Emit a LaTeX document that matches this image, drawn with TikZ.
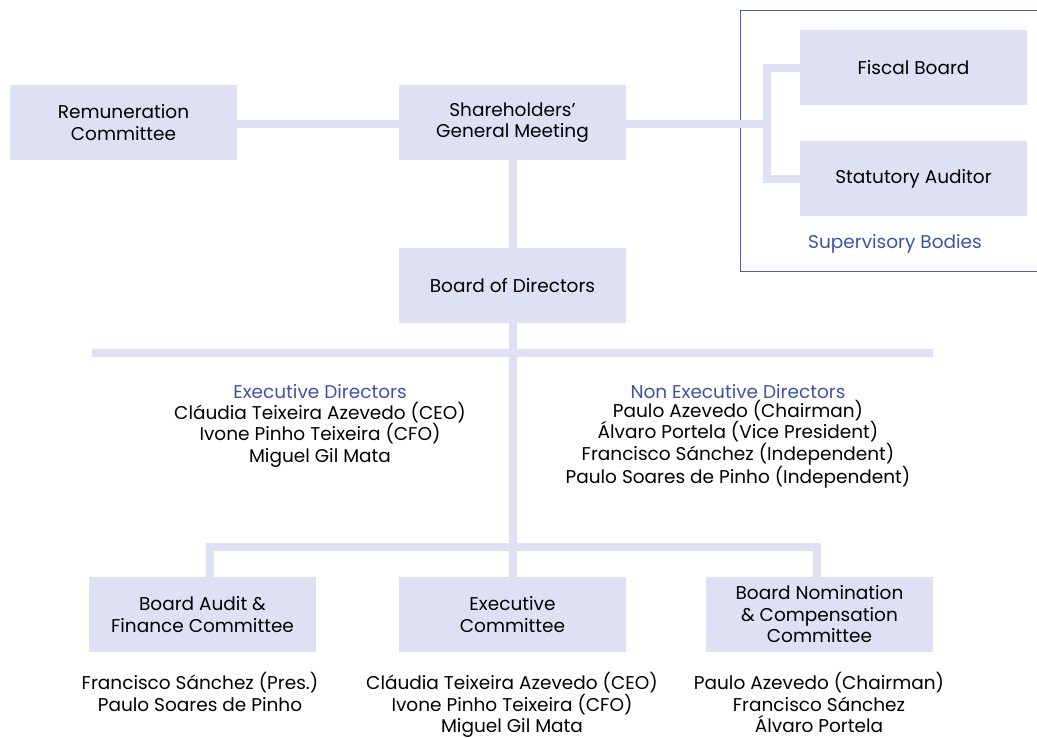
\documentclass[tikz,border=0pt]{standalone}
\usepackage{fontspec}
\setmainfont{Poppins}
\definecolor{boxfill}{HTML}{DDE1F3}
\definecolor{bluetext}{HTML}{3F54A0}
\definecolor{frameblue}{HTML}{4A5FA5}
\tikzset{
  orgbox/.style={fill=boxfill, minimum width=227pt, minimum height=75pt, inner sep=0pt, align=center, font=\fontsize{18.5}{21.5}\selectfont},
  link/.style={draw=boxfill, line width=8pt},
  names/.style={align=center, inner sep=0pt, anchor=base, font=\fontsize{18.5}{21.5}\selectfont},
  caption/.style={text=bluetext, inner sep=0pt, anchor=base, font=\fontsize{18.5}{21.5}\selectfont},
}
\begin{document}
\begin{tikzpicture}[x=1pt,y=-1pt]
\useasboundingbox (0,0) rectangle (1037,737);
% supervisory frame
\draw[frameblue, line width=1pt] (1037,10) -- (740.5,10) -- (740.5,271) -- (1037,271);
\coordinate (brk) at (767,124);
\coordinate (barL) at (92,353);
\coordinate (barR) at (933,353);
\coordinate (low) at (513,547);
\coordinate (dl) at (209.5,547);
\coordinate (dr) at (816.5,547);
\node[orgbox] (rem) at (123.5,122.5) {Remuneration\\Committee};
\node[orgbox] (sgm) at (512.5,122.5) {Shareholders'\\General Meeting};
\node[orgbox] (fis) at (913.5,67.5) {Fiscal Board};
\node[orgbox] (aud) at (913.5,178.5) {Statutory Auditor};
\node[orgbox] (bod) at (512.5,285.5) {Board of Directors};
\node[orgbox] (baf) at (202.5,614.5) {Board Audit \&\\Finance Committee};
\node[orgbox] (exc) at (512.5,614.5) {Executive\\Committee};
\node[orgbox] (bnc) at (819.5,614.5) {Board Nomination\\\& Compensation\\Committee};
\path[link] (rem.east |- brk) -- (sgm.west |- brk);
\path[link] (sgm.east |- brk) -- (brk);
\path[link] (fis.west) -| (brk) |- (aud.west);
\path[link] (sgm.south -| low) -- (bod.north -| low);
\path[link] (bod.south -| low) -- (low);
\path[link] (barL) -- (barR);
\path[link] (baf.north -| dl) -- (dl) -- (dr) -- (bnc.north -| dr);
\path[link] (low) -- (exc.north -| low);
\node[caption, anchor=center] (sup) at (895,244) {Supervisory Bodies};
\node[caption] (exd) at (320,398) {Executive Directors};
\node[names] (exdn) at (320,462) {Cláudia Teixeira Azevedo (CEO)\\Ivone Pinho Teixeira (CFO)\\Miguel Gil Mata};
\node[caption] (ned) at (738,398) {Non Executive Directors};
\node[names] (nedn) at (738,483.5) {Paulo Azevedo (Chairman)\\Álvaro Portela (Vice President)\\Francisco Sánchez (Independent)\\Paulo Soares de Pinho (Independent)};
\node[names] (bafn) at (200,711) {Francisco Sánchez (Pres.)\\Paulo Soares de Pinho};
\node[names] (excn) at (512,732.5) {Cláudia Teixeira Azevedo (CEO)\\Ivone Pinho Teixeira (CFO)\\Miguel Gil Mata};
\node[names] (bncn) at (819,732.5) {Paulo Azevedo (Chairman)\\Francisco Sánchez\\Álvaro Portela};
\end{tikzpicture}
\end{document}
